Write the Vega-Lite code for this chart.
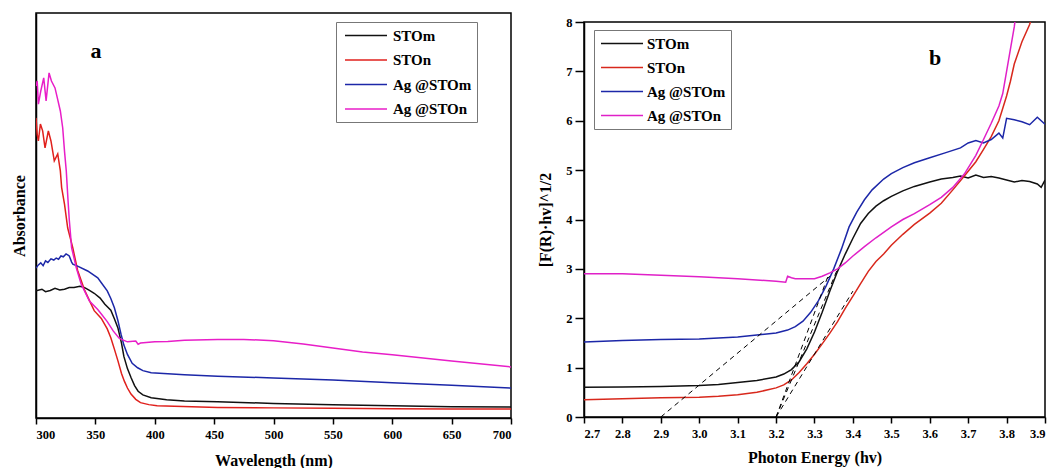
{
 "$schema": "https://vega.github.io/schema/vega-lite/v6.json",
 "padding": {"left": 10, "top": 12, "right": 0, "bottom": 0},
 "background": "white",
 "spacing": 24,
 "config": {
  "font": "Liberation Serif",
  "view": {"stroke": "#000", "strokeWidth": 1.5},
  "axis": {"domainColor": "#000", "domainWidth": 1.5, "tickColor": "#000", "tickWidth": 1.5, "tickSize": 6, "labelFont": "Liberation Serif", "labelFontWeight": "bold", "labelFontSize": 12.5, "labelColor": "#000", "labelOverlap": false, "titleFont": "Liberation Serif", "titleFontWeight": "bold", "titleFontSize": 16, "titleColor": "#000", "grid": false},
  "legend": {"title": null, "orient": "none", "symbolType": "M-2.8,0H2.8", "symbolSize": 225, "symbolStrokeWidth": 1.5, "labelFont": "Liberation Serif", "labelFontSize": 15, "labelFontWeight": "bold", "labelColor": "#000", "fillColor": "white", "strokeColor": "#777", "padding": 5}
 },
 "resolve": {"scale": {"color": "independent", "x": "independent", "y": "independent"}, "legend": {"color": "independent"}},
 "datasets": {
  "uv": [
   {"sample":"STOm","wavelength":300,"absorbance":0.314},{"sample":"STOm","wavelength":305,"absorbance":0.318},{"sample":"STOm","wavelength":308,"absorbance":0.312},{"sample":"STOm","wavelength":312,"absorbance":0.315},{"sample":"STOm","wavelength":316,"absorbance":0.320},{"sample":"STOm","wavelength":320,"absorbance":0.316},{"sample":"STOm","wavelength":324,"absorbance":0.318},{"sample":"STOm","wavelength":328,"absorbance":0.322},{"sample":"STOm","wavelength":332,"absorbance":0.322},{"sample":"STOm","wavelength":337,"absorbance":0.325},{"sample":"STOm","wavelength":341,"absorbance":0.322},{"sample":"STOm","wavelength":345,"absorbance":0.315},{"sample":"STOm","wavelength":349,"absorbance":0.308},{"sample":"STOm","wavelength":354,"absorbance":0.296},{"sample":"STOm","wavelength":358,"absorbance":0.281},{"sample":"STOm","wavelength":363,"absorbance":0.266},{"sample":"STOm","wavelength":366,"absorbance":0.245},{"sample":"STOm","wavelength":369,"absorbance":0.222},{"sample":"STOm","wavelength":372,"absorbance":0.185},{"sample":"STOm","wavelength":374,"absorbance":0.152},{"sample":"STOm","wavelength":377,"absorbance":0.122},{"sample":"STOm","wavelength":380,"absorbance":0.100},{"sample":"STOm","wavelength":383,"absorbance":0.080},{"sample":"STOm","wavelength":386,"absorbance":0.066},{"sample":"STOm","wavelength":390,"absorbance":0.057},{"sample":"STOm","wavelength":397,"absorbance":0.050},{"sample":"STOm","wavelength":410,"absorbance":0.045},{"sample":"STOm","wavelength":425,"absorbance":0.042},{"sample":"STOm","wavelength":453,"absorbance":0.040},{"sample":"STOm","wavelength":500,"absorbance":0.036},{"sample":"STOm","wavelength":550,"absorbance":0.033},{"sample":"STOm","wavelength":600,"absorbance":0.030},{"sample":"STOm","wavelength":650,"absorbance":0.028},{"sample":"STOm","wavelength":700,"absorbance":0.027},
   {"sample":"STOn","wavelength":300,"absorbance":0.741},{"sample":"STOn","wavelength":301,"absorbance":0.700},{"sample":"STOn","wavelength":302,"absorbance":0.684},{"sample":"STOn","wavelength":303.7,"absorbance":0.726},{"sample":"STOn","wavelength":305.6,"absorbance":0.709},{"sample":"STOn","wavelength":307.6,"absorbance":0.667},{"sample":"STOn","wavelength":310.4,"absorbance":0.709},{"sample":"STOn","wavelength":312.6,"absorbance":0.684},{"sample":"STOn","wavelength":315.4,"absorbance":0.635},{"sample":"STOn","wavelength":318.3,"absorbance":0.652},{"sample":"STOn","wavelength":320.5,"absorbance":0.610},{"sample":"STOn","wavelength":321.6,"absorbance":0.569},{"sample":"STOn","wavelength":324,"absorbance":0.528},{"sample":"STOn","wavelength":326.7,"absorbance":0.469},{"sample":"STOn","wavelength":331,"absorbance":0.420},{"sample":"STOn","wavelength":335,"absorbance":0.365},{"sample":"STOn","wavelength":341,"absorbance":0.315},{"sample":"STOn","wavelength":349,"absorbance":0.265},{"sample":"STOn","wavelength":355,"absorbance":0.246},{"sample":"STOn","wavelength":360,"absorbance":0.220},{"sample":"STOn","wavelength":363,"absorbance":0.198},{"sample":"STOn","wavelength":366,"absorbance":0.170},{"sample":"STOn","wavelength":369,"absorbance":0.141},{"sample":"STOn","wavelength":372,"absorbance":0.110},{"sample":"STOn","wavelength":374.4,"absorbance":0.091},{"sample":"STOn","wavelength":377,"absorbance":0.074},{"sample":"STOn","wavelength":380,"absorbance":0.059},{"sample":"STOn","wavelength":384,"absorbance":0.046},{"sample":"STOn","wavelength":388,"absorbance":0.038},{"sample":"STOn","wavelength":395,"absorbance":0.033},{"sample":"STOn","wavelength":402,"absorbance":0.030},{"sample":"STOn","wavelength":453,"absorbance":0.026},{"sample":"STOn","wavelength":500,"absorbance":0.025},{"sample":"STOn","wavelength":550,"absorbance":0.024},{"sample":"STOn","wavelength":600,"absorbance":0.023},{"sample":"STOn","wavelength":650,"absorbance":0.022},{"sample":"STOn","wavelength":700,"absorbance":0.022},
   {"sample":"Ag @STOm","wavelength":300,"absorbance":0.370},{"sample":"Ag @STOm","wavelength":302,"absorbance":0.378},{"sample":"Ag @STOm","wavelength":304,"absorbance":0.383},{"sample":"Ag @STOm","wavelength":306,"absorbance":0.376},{"sample":"Ag @STOm","wavelength":308,"absorbance":0.388},{"sample":"Ag @STOm","wavelength":310,"absorbance":0.384},{"sample":"Ag @STOm","wavelength":312.6,"absorbance":0.393},{"sample":"Ag @STOm","wavelength":315,"absorbance":0.390},{"sample":"Ag @STOm","wavelength":317,"absorbance":0.395},{"sample":"Ag @STOm","wavelength":319,"absorbance":0.392},{"sample":"Ag @STOm","wavelength":321,"absorbance":0.400},{"sample":"Ag @STOm","wavelength":323,"absorbance":0.398},{"sample":"Ag @STOm","wavelength":325.3,"absorbance":0.405},{"sample":"Ag @STOm","wavelength":327,"absorbance":0.402},{"sample":"Ag @STOm","wavelength":328,"absorbance":0.400},{"sample":"Ag @STOm","wavelength":330,"absorbance":0.385},{"sample":"Ag @STOm","wavelength":331,"absorbance":0.380},{"sample":"Ag @STOm","wavelength":335,"absorbance":0.375},{"sample":"Ag @STOm","wavelength":343.5,"absorbance":0.363},{"sample":"Ag @STOm","wavelength":352,"absorbance":0.346},{"sample":"Ag @STOm","wavelength":355,"absorbance":0.334},{"sample":"Ag @STOm","wavelength":360,"absorbance":0.314},{"sample":"Ag @STOm","wavelength":363,"absorbance":0.295},{"sample":"Ag @STOm","wavelength":366,"absorbance":0.272},{"sample":"Ag @STOm","wavelength":369,"absorbance":0.240},{"sample":"Ag @STOm","wavelength":371.6,"absorbance":0.207},{"sample":"Ag @STOm","wavelength":374,"absorbance":0.180},{"sample":"Ag @STOm","wavelength":377,"absorbance":0.157},{"sample":"Ag @STOm","wavelength":381,"absorbance":0.135},{"sample":"Ag @STOm","wavelength":385.6,"absorbance":0.124},{"sample":"Ag @STOm","wavelength":390,"absorbance":0.117},{"sample":"Ag @STOm","wavelength":397,"absorbance":0.112},{"sample":"Ag @STOm","wavelength":425,"absorbance":0.107},{"sample":"Ag @STOm","wavelength":453,"absorbance":0.103},{"sample":"Ag @STOm","wavelength":500,"absorbance":0.099},{"sample":"Ag @STOm","wavelength":550,"absorbance":0.094},{"sample":"Ag @STOm","wavelength":600,"absorbance":0.087},{"sample":"Ag @STOm","wavelength":650,"absorbance":0.081},{"sample":"Ag @STOm","wavelength":700,"absorbance":0.074},
   {"sample":"Ag @STOn","wavelength":300,"absorbance":0.820},{"sample":"Ag @STOn","wavelength":301,"absorbance":0.832},{"sample":"Ag @STOn","wavelength":302,"absorbance":0.775},{"sample":"Ag @STOn","wavelength":304,"absorbance":0.807},{"sample":"Ag @STOn","wavelength":306.5,"absorbance":0.840},{"sample":"Ag @STOn","wavelength":308.5,"absorbance":0.783},{"sample":"Ag @STOn","wavelength":311,"absorbance":0.852},{"sample":"Ag @STOn","wavelength":313,"absorbance":0.832},{"sample":"Ag @STOn","wavelength":316,"absorbance":0.815},{"sample":"Ag @STOn","wavelength":318,"absorbance":0.790},{"sample":"Ag @STOn","wavelength":320.5,"absorbance":0.758},{"sample":"Ag @STOn","wavelength":322.5,"absorbance":0.716},{"sample":"Ag @STOn","wavelength":324,"absorbance":0.659},{"sample":"Ag @STOn","wavelength":325.5,"absorbance":0.610},{"sample":"Ag @STOn","wavelength":327,"absorbance":0.536},{"sample":"Ag @STOn","wavelength":328,"absorbance":0.490},{"sample":"Ag @STOn","wavelength":330,"absorbance":0.420},{"sample":"Ag @STOn","wavelength":334,"absorbance":0.370},{"sample":"Ag @STOn","wavelength":338,"absorbance":0.331},{"sample":"Ag @STOn","wavelength":345,"absorbance":0.289},{"sample":"Ag @STOn","wavelength":352,"absorbance":0.268},{"sample":"Ag @STOn","wavelength":355,"absorbance":0.257},{"sample":"Ag @STOn","wavelength":360,"absorbance":0.238},{"sample":"Ag @STOn","wavelength":365,"absorbance":0.215},{"sample":"Ag @STOn","wavelength":370,"absorbance":0.197},{"sample":"Ag @STOn","wavelength":372,"absorbance":0.194},{"sample":"Ag @STOn","wavelength":377,"absorbance":0.188},{"sample":"Ag @STOn","wavelength":384,"absorbance":0.190},{"sample":"Ag @STOn","wavelength":386,"absorbance":0.182},{"sample":"Ag @STOn","wavelength":388,"absorbance":0.185},{"sample":"Ag @STOn","wavelength":400,"absorbance":0.188},{"sample":"Ag @STOn","wavelength":411,"absorbance":0.189},{"sample":"Ag @STOn","wavelength":425,"absorbance":0.192},{"sample":"Ag @STOn","wavelength":453,"absorbance":0.194},{"sample":"Ag @STOn","wavelength":475,"absorbance":0.194},{"sample":"Ag @STOn","wavelength":500,"absorbance":0.191},{"sample":"Ag @STOn","wavelength":525,"absorbance":0.183},{"sample":"Ag @STOn","wavelength":550,"absorbance":0.173},{"sample":"Ag @STOn","wavelength":575,"absorbance":0.163},{"sample":"Ag @STOn","wavelength":600,"absorbance":0.156},{"sample":"Ag @STOn","wavelength":650,"absorbance":0.141},{"sample":"Ag @STOn","wavelength":700,"absorbance":0.126}
  ],
  "tauc": [
   {"sample":"STOm","energy":2.7,"value":0.60},{"sample":"STOm","energy":2.8,"value":0.61},{"sample":"STOm","energy":2.9,"value":0.62},{"sample":"STOm","energy":3.0,"value":0.64},{"sample":"STOm","energy":3.05,"value":0.66},{"sample":"STOm","energy":3.1,"value":0.70},{"sample":"STOm","energy":3.15,"value":0.74},{"sample":"STOm","energy":3.2,"value":0.81},{"sample":"STOm","energy":3.22,"value":0.87},{"sample":"STOm","energy":3.24,"value":0.96},{"sample":"STOm","energy":3.26,"value":1.12},{"sample":"STOm","energy":3.28,"value":1.38},{"sample":"STOm","energy":3.3,"value":1.72},{"sample":"STOm","energy":3.32,"value":2.12},{"sample":"STOm","energy":3.34,"value":2.55},{"sample":"STOm","energy":3.36,"value":2.95},{"sample":"STOm","energy":3.38,"value":3.3},{"sample":"STOm","energy":3.4,"value":3.62},{"sample":"STOm","energy":3.42,"value":3.92},{"sample":"STOm","energy":3.44,"value":4.12},{"sample":"STOm","energy":3.46,"value":4.27},{"sample":"STOm","energy":3.48,"value":4.38},{"sample":"STOm","energy":3.5,"value":4.47},{"sample":"STOm","energy":3.53,"value":4.58},{"sample":"STOm","energy":3.56,"value":4.67},{"sample":"STOm","energy":3.6,"value":4.76},{"sample":"STOm","energy":3.63,"value":4.82},{"sample":"STOm","energy":3.66,"value":4.85},{"sample":"STOm","energy":3.68,"value":4.88},{"sample":"STOm","energy":3.7,"value":4.84},{"sample":"STOm","energy":3.72,"value":4.9},{"sample":"STOm","energy":3.74,"value":4.85},{"sample":"STOm","energy":3.76,"value":4.87},{"sample":"STOm","energy":3.78,"value":4.84},{"sample":"STOm","energy":3.8,"value":4.8},{"sample":"STOm","energy":3.82,"value":4.76},{"sample":"STOm","energy":3.84,"value":4.79},{"sample":"STOm","energy":3.86,"value":4.77},{"sample":"STOm","energy":3.88,"value":4.72},{"sample":"STOm","energy":3.89,"value":4.65},{"sample":"STOm","energy":3.9,"value":4.8},
   {"sample":"STOn","energy":2.7,"value":0.35},{"sample":"STOn","energy":2.8,"value":0.37},{"sample":"STOn","energy":2.9,"value":0.39},{"sample":"STOn","energy":3.0,"value":0.40},{"sample":"STOn","energy":3.05,"value":0.42},{"sample":"STOn","energy":3.1,"value":0.45},{"sample":"STOn","energy":3.15,"value":0.50},{"sample":"STOn","energy":3.2,"value":0.59},{"sample":"STOn","energy":3.22,"value":0.65},{"sample":"STOn","energy":3.24,"value":0.75},{"sample":"STOn","energy":3.26,"value":0.9},{"sample":"STOn","energy":3.28,"value":1.08},{"sample":"STOn","energy":3.3,"value":1.27},{"sample":"STOn","energy":3.32,"value":1.48},{"sample":"STOn","energy":3.34,"value":1.7},{"sample":"STOn","energy":3.36,"value":1.93},{"sample":"STOn","energy":3.38,"value":2.2},{"sample":"STOn","energy":3.4,"value":2.45},{"sample":"STOn","energy":3.42,"value":2.7},{"sample":"STOn","energy":3.44,"value":2.95},{"sample":"STOn","energy":3.46,"value":3.15},{"sample":"STOn","energy":3.48,"value":3.3},{"sample":"STOn","energy":3.5,"value":3.48},{"sample":"STOn","energy":3.53,"value":3.7},{"sample":"STOn","energy":3.56,"value":3.9},{"sample":"STOn","energy":3.6,"value":4.13},{"sample":"STOn","energy":3.63,"value":4.33},{"sample":"STOn","energy":3.66,"value":4.6},{"sample":"STOn","energy":3.69,"value":4.88},{"sample":"STOn","energy":3.72,"value":5.17},{"sample":"STOn","energy":3.74,"value":5.42},{"sample":"STOn","energy":3.76,"value":5.68},{"sample":"STOn","energy":3.78,"value":6.0},{"sample":"STOn","energy":3.8,"value":6.5},{"sample":"STOn","energy":3.81,"value":6.8},{"sample":"STOn","energy":3.82,"value":7.15},{"sample":"STOn","energy":3.84,"value":7.6},{"sample":"STOn","energy":3.86,"value":7.95},{"sample":"STOn","energy":3.87,"value":8.2},
   {"sample":"Ag @STOm","energy":2.7,"value":1.52},{"sample":"Ag @STOm","energy":2.8,"value":1.55},{"sample":"Ag @STOm","energy":2.9,"value":1.57},{"sample":"Ag @STOm","energy":3.0,"value":1.58},{"sample":"Ag @STOm","energy":3.1,"value":1.62},{"sample":"Ag @STOm","energy":3.15,"value":1.66},{"sample":"Ag @STOm","energy":3.2,"value":1.70},{"sample":"Ag @STOm","energy":3.23,"value":1.76},{"sample":"Ag @STOm","energy":3.25,"value":1.83},{"sample":"Ag @STOm","energy":3.27,"value":1.94},{"sample":"Ag @STOm","energy":3.29,"value":2.12},{"sample":"Ag @STOm","energy":3.31,"value":2.35},{"sample":"Ag @STOm","energy":3.33,"value":2.65},{"sample":"Ag @STOm","energy":3.35,"value":3.0},{"sample":"Ag @STOm","energy":3.37,"value":3.4},{"sample":"Ag @STOm","energy":3.39,"value":3.85},{"sample":"Ag @STOm","energy":3.41,"value":4.15},{"sample":"Ag @STOm","energy":3.43,"value":4.4},{"sample":"Ag @STOm","energy":3.45,"value":4.6},{"sample":"Ag @STOm","energy":3.48,"value":4.82},{"sample":"Ag @STOm","energy":3.5,"value":4.93},{"sample":"Ag @STOm","energy":3.53,"value":5.05},{"sample":"Ag @STOm","energy":3.56,"value":5.15},{"sample":"Ag @STOm","energy":3.6,"value":5.25},{"sample":"Ag @STOm","energy":3.64,"value":5.35},{"sample":"Ag @STOm","energy":3.68,"value":5.45},{"sample":"Ag @STOm","energy":3.7,"value":5.55},{"sample":"Ag @STOm","energy":3.72,"value":5.6},{"sample":"Ag @STOm","energy":3.74,"value":5.55},{"sample":"Ag @STOm","energy":3.76,"value":5.62},{"sample":"Ag @STOm","energy":3.78,"value":5.75},{"sample":"Ag @STOm","energy":3.79,"value":5.65},{"sample":"Ag @STOm","energy":3.8,"value":6.05},{"sample":"Ag @STOm","energy":3.82,"value":6.02},{"sample":"Ag @STOm","energy":3.84,"value":5.98},{"sample":"Ag @STOm","energy":3.86,"value":5.92},{"sample":"Ag @STOm","energy":3.88,"value":6.07},{"sample":"Ag @STOm","energy":3.9,"value":5.93},
   {"sample":"Ag @STOn","energy":2.7,"value":2.9},{"sample":"Ag @STOn","energy":2.8,"value":2.9},{"sample":"Ag @STOn","energy":2.9,"value":2.87},{"sample":"Ag @STOn","energy":3.0,"value":2.84},{"sample":"Ag @STOn","energy":3.1,"value":2.8},{"sample":"Ag @STOn","energy":3.2,"value":2.75},{"sample":"Ag @STOn","energy":3.225,"value":2.73},{"sample":"Ag @STOn","energy":3.23,"value":2.85},{"sample":"Ag @STOn","energy":3.24,"value":2.82},{"sample":"Ag @STOn","energy":3.25,"value":2.8},{"sample":"Ag @STOn","energy":3.3,"value":2.8},{"sample":"Ag @STOn","energy":3.32,"value":2.85},{"sample":"Ag @STOn","energy":3.34,"value":2.92},{"sample":"Ag @STOn","energy":3.36,"value":3.0},{"sample":"Ag @STOn","energy":3.38,"value":3.12},{"sample":"Ag @STOn","energy":3.4,"value":3.26},{"sample":"Ag @STOn","energy":3.43,"value":3.45},{"sample":"Ag @STOn","energy":3.46,"value":3.63},{"sample":"Ag @STOn","energy":3.5,"value":3.85},{"sample":"Ag @STOn","energy":3.53,"value":4.0},{"sample":"Ag @STOn","energy":3.56,"value":4.12},{"sample":"Ag @STOn","energy":3.6,"value":4.3},{"sample":"Ag @STOn","energy":3.63,"value":4.45},{"sample":"Ag @STOn","energy":3.66,"value":4.65},{"sample":"Ag @STOn","energy":3.69,"value":4.92},{"sample":"Ag @STOn","energy":3.72,"value":5.3},{"sample":"Ag @STOn","energy":3.74,"value":5.62},{"sample":"Ag @STOn","energy":3.76,"value":5.95},{"sample":"Ag @STOn","energy":3.78,"value":6.3},{"sample":"Ag @STOn","energy":3.79,"value":6.55},{"sample":"Ag @STOn","energy":3.8,"value":7.0},{"sample":"Ag @STOn","energy":3.81,"value":7.45},{"sample":"Ag @STOn","energy":3.82,"value":7.9},{"sample":"Ag @STOn","energy":3.825,"value":8.2}
  ],
  "fits": [
   {"fit":"f1","energy":2.9,"value":0},{"fit":"f1","energy":3.34,"value":2.85},
   {"fit":"f2","energy":3.2,"value":0},{"fit":"f2","energy":3.335,"value":2.85},
   {"fit":"f3","energy":3.2,"value":0},{"fit":"f3","energy":3.36,"value":3.0},
   {"fit":"f4","energy":3.2,"value":0},{"fit":"f4","energy":3.4,"value":2.55}
  ],
  "labA": [{"wavelength":350.5,"absorbance":0.906,"label":"a"}],
  "labB": [{"energy":3.614,"value":7.27,"label":"b"}]
 },
 "hconcat": [
  {
   "width": 475, "height": 405,
   "layer": [
    {
     "data": {"name": "uv"},
     "mark": {"type": "line", "strokeWidth": 1.5, "clip": true},
     "encoding": {
      "x": {"field": "wavelength", "type": "quantitative", "scale": {"domain": [300, 700], "nice": false, "zero": false}, "axis": {"values": [300,350,400,450,500,550,600,650,700], "tickCount": 20, "format": "d", "title": "Wavelength (nm)", "titlePadding": 12, "labelPadding": 4}},
      "y": {"field": "absorbance", "type": "quantitative", "scale": {"domain": [0, 1], "nice": false}, "axis": {"labels": false, "ticks": false, "title": "Absorbance", "titlePadding": 9}},
      "color": {"field": "sample", "type": "nominal", "scale": {"domain": ["STOm", "STOn", "Ag @STOm", "Ag @STOn"], "range": ["#111111", "#e0201c", "#1c27a8", "#e81ec8"]}, "legend": {"legendX": 300, "legendY": 9, "symbolOffset": 16.5, "labelOffset": 18.5, "rowPadding": 7.5}}
     }
    },
    {
     "data": {"name": "labA"},
     "mark": {"type": "text", "fontSize": 22, "fontWeight": "bold", "font": "Liberation Serif", "color": "#000"},
     "encoding": {
      "x": {"field": "wavelength", "type": "quantitative"},
      "y": {"field": "absorbance", "type": "quantitative"},
      "text": {"field": "label"}
     }
    }
   ]
  },
  {
   "spacing": 1,
   "resolve": {"scale": {"x": "independent", "y": "independent"}},
   "vconcat": [
    {
     "width": 461, "height": 1,
     "view": {"stroke": null},
     "data": {"values": []},
     "mark": "point"
    },
    {
     "width": 461, "height": 395,
     "layer": [
      {
       "data": {"name": "tauc"},
       "mark": {"type": "line", "strokeWidth": 1.5, "clip": true},
       "encoding": {
        "x": {"field": "energy", "type": "quantitative", "scale": {"domain": [2.7, 3.9], "nice": false, "zero": false}, "axis": {"values": [2.7,2.8,2.9,3.0,3.1,3.2,3.3,3.4,3.5,3.6,3.7,3.8,3.9], "tickCount": 20, "format": ".1f", "title": "Photon Energy (hv)", "titlePadding": 10, "labelPadding": 4}},
        "y": {"field": "value", "type": "quantitative", "scale": {"domain": [0, 8], "nice": false}, "axis": {"values": [0,1,2,3,4,5,6,7,8], "tickCount": 20, "format": "d", "title": "[F(R)·hv]^1/2", "titlePadding": 12, "labelPadding": 3, "tickSize": 9}},
        "color": {"field": "sample", "type": "nominal", "scale": {"domain": ["STOm", "STOn", "Ag @STOm", "Ag @STOn"], "range": ["#111111", "#d8281c", "#1c27a8", "#e020c8"]}, "legend": {"legendX": 10, "legendY": 17, "symbolOffset": 14.5, "labelOffset": 16.5, "rowPadding": 7}}
       }
      },
      {
       "data": {"name": "fits"},
       "mark": {"type": "line", "strokeWidth": 1, "strokeDash": [5, 4], "color": "#000", "clip": true},
       "encoding": {
        "x": {"field": "energy", "type": "quantitative"},
        "y": {"field": "value", "type": "quantitative"},
        "detail": {"field": "fit", "type": "nominal"}
       }
      },
      {
       "data": {"name": "labB"},
       "mark": {"type": "text", "fontSize": 22, "fontWeight": "bold", "font": "Liberation Serif", "color": "#000"},
       "encoding": {
        "x": {"field": "energy", "type": "quantitative"},
        "y": {"field": "value", "type": "quantitative"},
        "text": {"field": "label"}
       }
      }
     ]
    }
   ]
  }
 ]
}
